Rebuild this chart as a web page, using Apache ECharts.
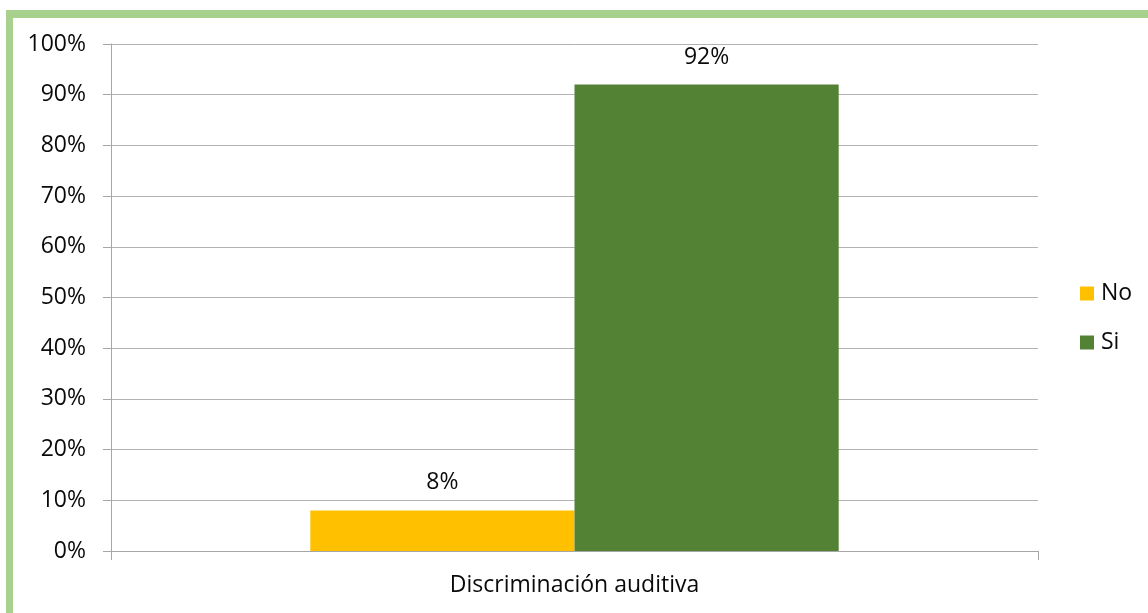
<!DOCTYPE html>
<html>
<head>
<meta charset="utf-8">
<style>
  html, body { margin: 0; padding: 0; background: #ffffff; }
  #chart { width: 1148px; height: 613px; }
</style>
<script src="https://cdn.jsdelivr.net/npm/echarts@6/dist/echarts.min.js"></script>
</head>
<body>
<div id="chart"></div>
<script>
// Data
var categories = ['Discriminación auditiva'];
var seriesNames = ['No', 'Si'];
var noValues = [0.08];
var siValues = [0.92];
var seriesColors = ['#FFC000', '#548235'];

var FONT = '"Open Sans", sans-serif';
var TXT = '#0a0a0a';
var FS = 23;
function pct(v) { return Math.round(v * 100) + '%'; }

var chart = echarts.init(document.getElementById('chart'), null, { renderer: 'canvas' });
chart.setOption({
  animation: false,
  backgroundColor: '#ffffff',
  textStyle: { fontFamily: FONT },
  graphic: [
    { type: 'rect', shape: { x: 6, y: 10, width: 7, height: 603 }, style: { fill: '#A9D18E' }, silent: true },
    { type: 'rect', shape: { x: 6, y: 10, width: 1142, height: 8 }, style: { fill: '#A9D18E' }, silent: true }
  ],
  grid: { left: 111, right: 110, top: 44, bottom: 62, containLabel: false },
  legend: {
    orient: 'vertical',
    left: 1080,
    top: 282,
    padding: 0,
    itemWidth: 14,
    itemHeight: 14,
    itemGap: 26,
    icon: 'rect',
    data: seriesNames,
    textStyle: { fontFamily: FONT, fontSize: FS, color: TXT, padding: [0, 0, 0, 2] }
  },
  xAxis: {
    type: 'category',
    data: categories,
    axisLine: { show: true, lineStyle: { color: '#A6A6A6', width: 1 } },
    axisTick: { show: true, length: 9, lineStyle: { color: '#A6A6A6' } },
    axisLabel: { fontFamily: FONT, fontSize: FS, color: TXT, margin: 23 }
  },
  yAxis: {
    type: 'value',
    min: 0,
    max: 1,
    interval: 0.1,
    axisLine: { show: true, lineStyle: { color: '#A6A6A6', width: 1 } },
    axisTick: { show: true, length: 8, lineStyle: { color: '#A6A6A6' } },
    splitLine: { show: true, lineStyle: { color: '#B3B3B3', width: 1 } },
    axisLabel: { fontFamily: FONT, fontSize: FS, color: TXT, margin: 25, formatter: pct }
  },
  series: [
    {
      name: seriesNames[0],
      type: 'bar',
      data: noValues,
      barGap: '0%',
      barCategoryGap: '43%',
      itemStyle: { color: seriesColors[0] },
      label: { show: true, position: 'top', distance: 16, fontFamily: FONT, fontSize: FS, color: TXT, formatter: function (p) { return pct(p.value); } }
    },
    {
      name: seriesNames[1],
      type: 'bar',
      data: siValues,
      barGap: '0%',
      barCategoryGap: '43%',
      itemStyle: { color: seriesColors[1] },
      label: { show: true, position: 'top', distance: 16, fontFamily: FONT, fontSize: FS, color: TXT, formatter: function (p) { return pct(p.value); } }
    }
  ]
});
</script>
</body>
</html>
